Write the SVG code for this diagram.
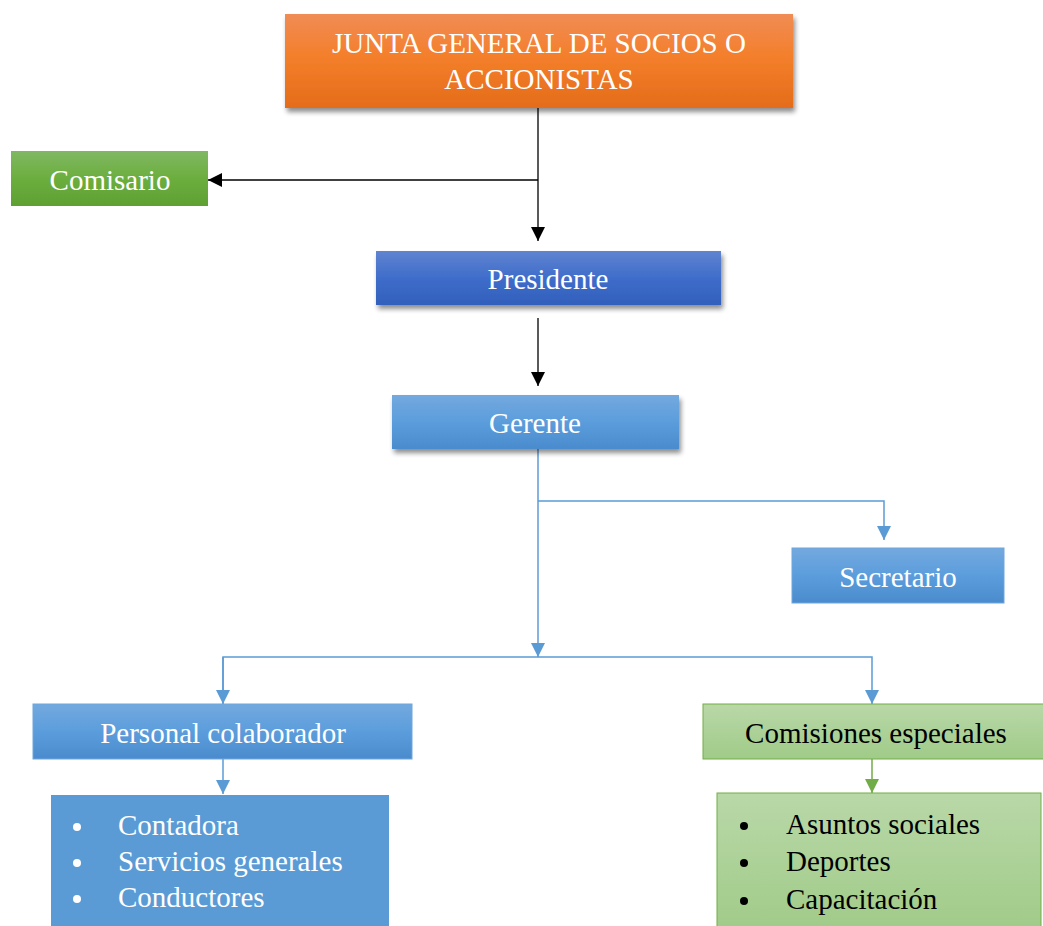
<svg xmlns="http://www.w3.org/2000/svg" width="1043" height="926" viewBox="0 0 1043 926">
  <defs>
    <linearGradient id="gOrange" x1="0" y1="0" x2="0" y2="1">
      <stop offset="0" stop-color="#f08c55"/>
      <stop offset="0.45" stop-color="#f47f2b"/>
      <stop offset="1" stop-color="#e46c1a"/>
    </linearGradient>
    <linearGradient id="gGreen" x1="0" y1="0" x2="0" y2="1">
      <stop offset="0" stop-color="#80b863"/>
      <stop offset="0.5" stop-color="#6cae3e"/>
      <stop offset="1" stop-color="#5fa033"/>
    </linearGradient>
    <linearGradient id="gDark" x1="0" y1="0" x2="0" y2="1">
      <stop offset="0" stop-color="#5f84d0"/>
      <stop offset="0.5" stop-color="#3f6dcb"/>
      <stop offset="1" stop-color="#315fbb"/>
    </linearGradient>
    <linearGradient id="gBlue" x1="0" y1="0" x2="0" y2="1">
      <stop offset="0" stop-color="#74a9df"/>
      <stop offset="0.5" stop-color="#5b9ddc"/>
      <stop offset="1" stop-color="#4a8bcd"/>
    </linearGradient>
    <linearGradient id="gLight" x1="0" y1="0" x2="0" y2="1">
      <stop offset="0" stop-color="#b9d8a8"/>
      <stop offset="1" stop-color="#a0cb88"/>
    </linearGradient>
    <filter id="shadow" x="-5%" y="-20%" width="115%" height="150%">
      <feGaussianBlur in="SourceAlpha" stdDeviation="2.5"/>
      <feOffset dx="2" dy="4" result="b"/>
      <feComponentTransfer><feFuncA type="linear" slope="0.45"/></feComponentTransfer>
      <feMerge><feMergeNode/><feMergeNode in="SourceGraphic"/></feMerge>
    </filter>
    <marker id="aBlack" markerWidth="14" markerHeight="14" refX="14" refY="7" orient="auto" markerUnits="userSpaceOnUse" viewBox="0 0 14 14">
      <path d="M0,0 L14,7 L0,14 Z" fill="#000"/>
    </marker>
    <marker id="aBlue" markerWidth="14" markerHeight="14" refX="14" refY="7" orient="auto" markerUnits="userSpaceOnUse" viewBox="0 0 14 14">
      <path d="M0,0 L14,7 L0,14 Z" fill="#5b9bd5"/>
    </marker>
    <marker id="aGreen" markerWidth="14" markerHeight="14" refX="14" refY="7" orient="auto" markerUnits="userSpaceOnUse" viewBox="0 0 14 14">
      <path d="M0,0 L14,7 L0,14 Z" fill="#70ad47"/>
    </marker>
  </defs>
  <style>
    text { font-family: "Liberation Serif", "Times New Roman", serif; font-size: 29px; }
    .w { fill: #ffffff; }
    .k { fill: #000000; }
    .c { text-anchor: middle; }
    .lk { fill: none; stroke: #000; stroke-width: 1.3; }
    .lb { fill: none; stroke: #5b9bd5; stroke-width: 1.5; }
    .lg { fill: none; stroke: #70ad47; stroke-width: 1.5; }
  </style>
  <rect width="1043" height="926" fill="#ffffff"/>

  <!-- connectors -->
  <g id="connectors">
    <path class="lk" d="M538,108 V241" marker-end="url(#aBlack)"/>
    <path class="lk" d="M538,180 H208" marker-end="url(#aBlack)"/>
    <path class="lk" d="M538,318 V386" marker-end="url(#aBlack)"/>
    <path class="lb" d="M538,449 V657" marker-end="url(#aBlue)"/>
    <path class="lb" d="M538,501 H884 V540" marker-end="url(#aBlue)"/>
    <path class="lb" d="M223,704 V657 H872 V704" marker-end="url(#aBlue)"/>
    <path class="lb" d="M223,657 V704" marker-end="url(#aBlue)"/>
    <path class="lb" d="M223,759 V794" marker-end="url(#aBlue)"/>
    <path class="lg" d="M872,759 V793" marker-end="url(#aGreen)"/>
  </g>

  <g id="junta">
    <rect x="285" y="14" width="508" height="94" fill="url(#gOrange)" filter="url(#shadow)"/>
    <text class="w c" x="539" y="53">JUNTA GENERAL DE SOCIOS O</text>
    <text class="w c" x="539" y="89">ACCIONISTAS</text>
  </g>

  <g id="comisario">
    <rect x="11" y="151" width="197" height="55" fill="url(#gGreen)"/>
    <text class="w c" x="110" y="190">Comisario</text>
  </g>

  <g id="presidente">
    <rect x="376" y="251" width="345" height="54" fill="url(#gDark)" filter="url(#shadow)"/>
    <text class="w c" x="548" y="289">Presidente</text>
  </g>

  <g id="gerente">
    <rect x="392" y="395" width="287" height="54" fill="url(#gBlue)" filter="url(#shadow)"/>
    <text class="w c" x="535" y="433">Gerente</text>
  </g>

  <g id="secretario">
    <rect x="792" y="548" width="212" height="55" fill="url(#gBlue)" stroke="#6fa6dc" stroke-width="1"/>
    <text class="w c" x="898" y="587">Secretario</text>
  </g>

  <g id="personal">
    <rect x="33" y="704" width="379" height="55" fill="url(#gBlue)" stroke="#6fa6dc" stroke-width="1"/>
    <text class="w c" x="223" y="743">Personal colaborador</text>
  </g>

  <g id="personal-list">
    <rect x="51" y="795" width="338" height="140" fill="#5b9bd5"/>
    <circle cx="77" cy="827" r="4" fill="#fff"/>
    <circle cx="77" cy="863" r="4" fill="#fff"/>
    <circle cx="77" cy="899" r="4" fill="#fff"/>
    <text class="w" x="118" y="835">Contadora</text>
    <text class="w" x="118" y="871">Servicios generales</text>
    <text class="w" x="118" y="907">Conductores</text>
  </g>

  <g id="comisiones">
    <rect x="703" y="704" width="345" height="55" fill="url(#gLight)" stroke="#70ad47" stroke-width="1"/>
    <text class="k c" x="876" y="743">Comisiones especiales</text>
  </g>

  <g id="comisiones-list">
    <rect x="717" y="793" width="324" height="140" fill="url(#gLight)" stroke="#70ad47" stroke-width="1"/>
    <circle cx="744" cy="826" r="4" fill="#000"/>
    <circle cx="744" cy="863" r="4" fill="#000"/>
    <circle cx="744" cy="901" r="4" fill="#000"/>
    <text class="k" x="786" y="834">Asuntos sociales</text>
    <text class="k" x="786" y="871">Deportes</text>
    <text class="k" x="786" y="909">Capacitación</text>
  </g>
</svg>
